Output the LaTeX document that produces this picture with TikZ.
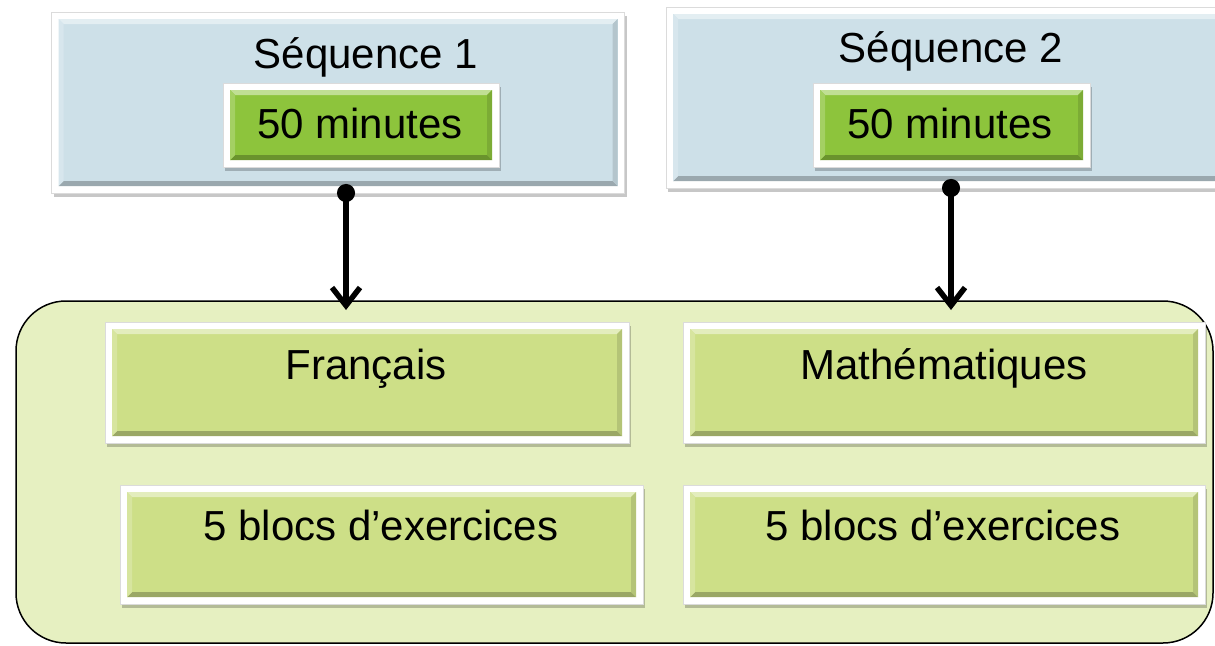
\documentclass[tikz,border=0pt]{standalone}
\usepackage{fontspec}
\setmainfont{Liberation Sans}
\usetikzlibrary{arrows.meta,shadows}
\definecolor{seqblue}{HTML}{CDE0E8}
\definecolor{mingreen}{HTML}{8DC43C}
\definecolor{subgreen}{HTML}{CDDF87}
\definecolor{contgreen}{HTML}{E6F0C1}
\begin{document}
\begin{tikzpicture}[x=1pt,y=-1pt,
  fbox/.style={rectangle, draw=black!14, line width=1pt, fill=white, inner sep=0pt, outer sep=0pt,
    drop shadow={shadow xshift=2pt, shadow yshift=-4pt, opacity=0.22, fill=black},
    path picture={
      \coordinate (pnw) at ([shift={(7pt,-7pt)}]path picture bounding box.north west);
      \coordinate (pse) at ([shift={(-7pt,7pt)}]path picture bounding box.south east);
      \fill[#1] (pnw) rectangle (pse);
      \fill[#1!55!white] (pnw) -- (pnw -| pse) -- ++(-5pt,-5pt) -- ([shift={(5pt,-5pt)}]pnw) -- cycle;
      \fill[#1!75!black] (pse) -- (pse -| pnw) -- ++(5pt,5pt) -- ([shift={(-5pt,5pt)}]pse) -- cycle;
      \fill[#1!88!black] (pse) -- (pse |- pnw) -- ++(-5pt,-5pt) -- ([shift={(-5pt,5pt)}]pse) -- cycle;
      \fill[#1!80!white] (pnw) -- (pnw |- pse) -- ++(5pt,5pt) -- ([shift={(5pt,-5pt)}]pnw) -- cycle;
    }},
  lbl/.style={anchor=base, inner sep=0pt, font=\fontsize{42}{50}\selectfont},
  conn/.style={line width=5.5pt, {Circle[length=18pt]}-{Straight Barb[length=18pt,width=28pt]}},
  contbox/.style={rectangle, draw=black, line width=1.5pt, fill=contgreen, rounded corners=50pt, inner sep=0pt}
]
\useasboundingbox (0,0) rectangle (1215,645);
\clip (0,0) rectangle (1215,645);
\fill[white] (0,0) rectangle (1215,645);

% container
\node[contbox, minimum width=1197pt, minimum height=342pt] (cont) at (614.5,472) {};

% sequence boxes
\node[fbox=seqblue, minimum width=573pt, minimum height=181pt] (s1) at (338,102.5) {};
\node[fbox=seqblue, minimum width=574pt, minimum height=181pt] (s2) at (953,97.5) {};
\node[fbox=mingreen, minimum width=276pt, minimum height=84pt] (m1) at (361,125) {};
\node[fbox=mingreen, minimum width=277pt, minimum height=84pt] (m2) at (951.5,125) {};

% subject boxes
\node[fbox=subgreen, minimum width=524pt, minimum height=121pt] (fr) at (367,382.5) {};
\node[fbox=subgreen, minimum width=522pt, minimum height=121pt] (ma) at (944,382.5) {};
\node[fbox=subgreen, minimum width=523pt, minimum height=119pt] (b1) at (381.5,544.5) {};
\node[fbox=subgreen, minimum width=522pt, minimum height=119pt] (b2) at (944,544.5) {};

% labels
\node[lbl] (ts1) at (366,68) {Séquence 1};
\node[lbl] (ts2) at (951,62) {Séquence 2};
\node[lbl] (tm1) at (360,138) {50 minutes};
\node[lbl] (tm2) at (950,138) {50 minutes};
\node[lbl] (tfr) at (366,379) {Français};
\node[lbl] (tma) at (944,379) {Mathématiques};
\node[lbl] (tb1) at (381,540) {5 blocs d’exercices};
\node[lbl] (tb2) at (943,540) {5 blocs d’exercices};

% connectors
\coordinate (t1) at (346,310);
\coordinate (t2) at (951,310);
\draw[conn, shorten <=-9pt] (s1.south -| t1) -- (t1);
\draw[conn, shorten <=-9pt] (s2.south -| t2) -- (t2);
\end{tikzpicture}
\end{document}
